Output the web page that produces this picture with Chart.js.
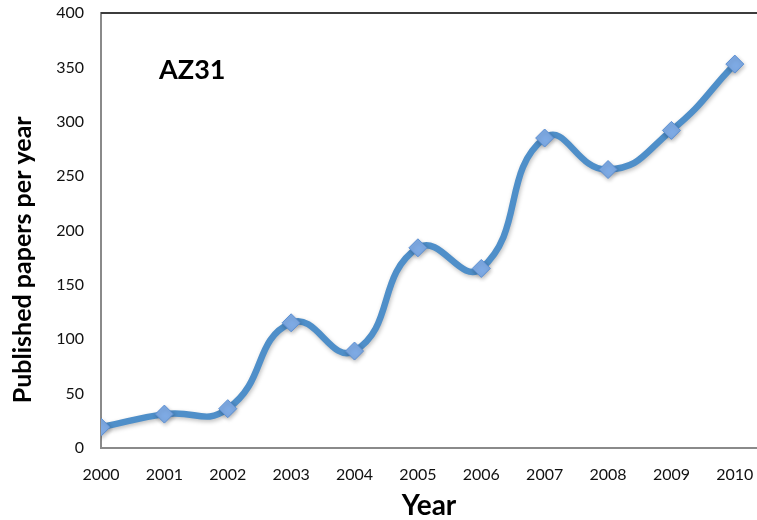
<!DOCTYPE html>
<html>
<head>
<meta charset="utf-8">
<script src="https://cdn.jsdelivr.net/npm/chart.js@4"></script>
<style>
  html, body { margin: 0; padding: 0; background: #fff; }
  #wrap { width: 757px; height: 520px; }
</style>
</head>
<body>
<div id="wrap"><canvas id="papersChart" width="757" height="520"></canvas></div>
<script>
// data
const years = [2000, 2001, 2002, 2003, 2004, 2005, 2006, 2007, 2008, 2009, 2010];
const papers = [19, 31, 36, 115, 89, 184, 165, 285, 256, 292, 353];
const yTicks = [0, 50, 100, 150, 200, 250, 300, 350, 400];
const seriesName = "AZ31";
const xTitle = "Year";
const yTitle = "Published papers per year";

const FONT = "Lato, 'Open Sans', sans-serif";

// top frame line, the AZ31 label and the y title (sits below the axis middle in the original)
const framePlugin = {
  id: "frame",
  afterDraw(chart) {
    const { ctx, chartArea, scales } = chart;
    ctx.save();
    ctx.strokeStyle = "#3c3c3c";
    ctx.lineWidth = 2;
    ctx.beginPath();
    ctx.moveTo(chartArea.left, chartArea.top);
    ctx.lineTo(chartArea.right, chartArea.top);
    ctx.stroke();

    ctx.fillStyle = "#000";
    ctx.font = "bold 27px " + FONT;
    ctx.textAlign = "center";
    ctx.textBaseline = "middle";
    ctx.fillText(seriesName, scales.x.getPixelForValue(2001.44), scales.y.getPixelForValue(347));

    ctx.translate(23, scales.y.getPixelForValue(173));
    ctx.rotate(-Math.PI / 2);
    ctx.font = "bold 25px " + FONT;
    ctx.fillText(yTitle, 0, 0);
    ctx.restore();
  }
};

// soft shadow under line and markers
const shadowPlugin = {
  id: "shadow",
  beforeDatasetDraw(chart) {
    const ctx = chart.ctx;
    ctx.save();
    ctx.shadowColor = "rgba(0,0,0,0.25)";
    ctx.shadowBlur = 4;
    ctx.shadowOffsetX = 1;
    ctx.shadowOffsetY = 2;
  },
  afterDatasetDraw(chart) {
    chart.ctx.restore();
  }
};

new Chart(document.getElementById("papersChart"), {
  type: "line",
  data: {
    datasets: [{
      label: seriesName,
      data: years.map((y, i) => ({ x: y, y: papers[i] })),
      borderColor: "#4f8fc9",
      borderWidth: 6.5,
      tension: 0.5,
      pointStyle: "rectRot",
      pointRadius: 9,
      pointBackgroundColor: "#7eaae4",
      pointBorderColor: "#5b8fd3",
      pointBorderWidth: 1
    }]
  },
  options: {
    responsive: false,
    animation: false,
    layout: { autoPadding: false, padding: { top: 13, right: 0, left: 8, bottom: 0 } },
    plugins: {
      legend: { display: false },
      tooltip: { enabled: false }
    },
    scales: {
      x: {
        type: "linear",
        min: years[0],
        max: 2010.35,
        // hidden grid, tickLength only used as the gap to the labels
        grid: { display: false, drawTicks: true, tickLength: 17 },
        border: { display: true, color: "#8a8a8a", width: 2 },
        ticks: {
          stepSize: 1,
          includeBounds: false,
          padding: 0,
          color: "#111",
          font: { family: FONT, size: 16 },
          callback: v => String(v)
        },
        title: {
          display: true,
          text: xTitle,
          color: "#000",
          font: { family: FONT, size: 28, weight: "bold", lineHeight: 1 },
          padding: { top: 8, bottom: 0 }
        }
      },
      y: {
        min: yTicks[0],
        max: yTicks[yTicks.length - 1],
        grid: { display: false, drawTicks: true, tickLength: 17 },
        border: { display: true, color: "#8a8a8a", width: 2 },
        afterBuildTicks: axis => { axis.ticks = yTicks.map(v => ({ value: v })); },
        afterFit: s => { s.width = 93; },
        ticks: {
          padding: 0,
          color: "#111",
          font: { family: FONT, size: 16 }
        },
        title: { display: false }
      }
    }
  },
  plugins: [shadowPlugin, framePlugin]
});
</script>
</body>
</html>
